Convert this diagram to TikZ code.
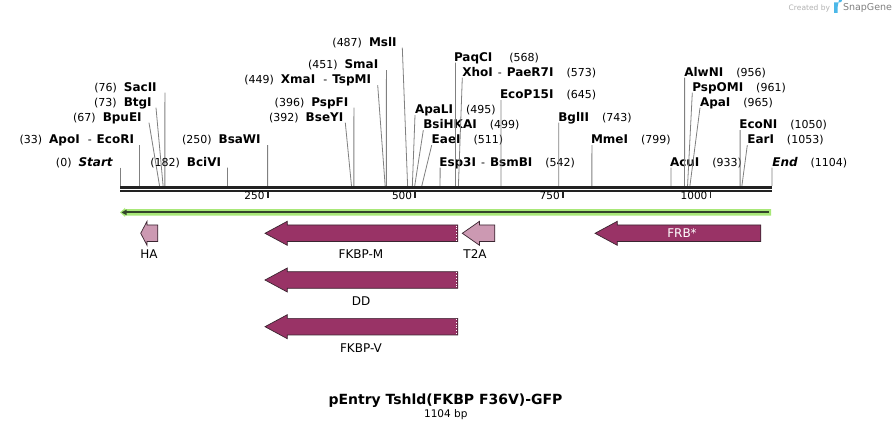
\documentclass[tikz,border=0pt]{standalone}
\usepackage{fontspec}
\setmainfont{DejaVu Sans}
\definecolor{maroonf}{HTML}{993366}
\definecolor{pinkf}{HTML}{CC99B2}
\definecolor{edgef}{HTML}{3A2530}
\definecolor{lgreen}{HTML}{A8E878}
\definecolor{dgreen}{HTML}{33452A}
\definecolor{cutgray}{HTML}{808080}
\definecolor{bbone}{HTML}{222222}
\definecolor{sglogo}{HTML}{4CB8E8}
\newcommand\NB[1]{{\fontsize{11}{13}\selectfont #1}}
\newcommand\NM[1]{{\fontsize{12}{14}\selectfont\bfseries #1}}
\newcommand\NI[1]{{\fontsize{12}{14}\selectfont\bfseries\itshape #1}}
\newcommand\enzL[6]{%
  \node[lbl,anchor=base east] (#1) at (#2,#3) {#6};
  \coordinate (#1t) at (#4,#3+1.5);
  \coordinate (#1s) at ({120+#5*0.59058},186);
  \draw[cutline] (#1t) -- (#1s);}
\newcommand\enzR[6]{%
  \node[lbl,anchor=base west] (#1) at (#2,#3) {#6};
  \coordinate (#1t) at (#4,#3+1.5);
  \coordinate (#1s) at ({120+#5*0.59058},186);
  \draw[cutline] (#1t) -- (#1s);}
\newcommand\feat[5]{%
  \draw[featedge, fill=#5] (#1,#4) -- (#2,#4-12) -- (#2,#4-8.3) -- (#3,#4-8.3)
    -- (#3,#4+8.3) -- (#2,#4+8.3) -- (#2,#4+12) -- cycle;}
\begin{document}
\begin{tikzpicture}[x=1pt,y=-1pt,
  lbl/.style={inner sep=0pt,outer sep=0pt},
  cutline/.style={draw=cutgray,line width=0.8pt},
  featedge/.style={draw=edgef,line width=0.7pt,line join=miter},
  flabel/.style={inner sep=0pt,font=\fontsize{12}{14}\selectfont},
  ticklab/.style={inner sep=0pt,anchor=base east,font=\fontsize{10.5}{12}\selectfont}]
\useasboundingbox[fill=white] (0,0) rectangle (892,430);

% SnapGene credit
\node[lbl,anchor=base east,text=black!30,font=\fontsize{7.5}{9}\selectfont] (cred) at (830,10.5) {Created by};
\fill[sglogo] (834,2.5) rectangle (837.5,13) (837.5,2.5) -- (839.5,2.5) arc (90:-90:2.6) -- (837.5,7.7) -- cycle;
\node[lbl,anchor=base west,text=black!50,font=\fontsize{9.5}{11}\selectfont] (sg) at (843,11) {SnapGene};

% enzyme sites, labels left of the line
\enzL{start}{112.7}{166.2}{120}{0}{\NB{(0)}\hspace{7pt}\NI{Start}}
\enzL{apoi}{134}{143.7}{139.5}{33}{\NB{(33)}\hspace{7pt}\NM{ApoI}\hspace{8pt}\NB{-}\hspace{5pt}\NM{EcoRI}}
\enzL{bpuei}{141.7}{121.2}{149}{67}{\NB{(67)}\hspace{7pt}\NM{BpuEI}}
\enzL{btgi}{151.7}{106.2}{156}{73}{\NB{(73)}\hspace{7pt}\NM{BtgI}}
\enzL{sacii}{156.7}{91.2}{164.9}{76}{\NB{(76)}\hspace{7pt}\NM{SacII}}
\enzL{bcivi}{221}{166.2}{227.5}{182}{\NB{(182)}\hspace{7pt}\NM{BciVI}}
\enzL{bsawi}{260.7}{143.7}{267.6}{250}{\NB{(250)}\hspace{7pt}\NM{BsaWI}}
\enzL{msli}{396.7}{46.2}{402.3}{487}{\NB{(487)}\hspace{7pt}\NM{MslI}}
\enzL{smai}{378.3}{68.7}{386.4}{451}{\NB{(451)}\hspace{7pt}\NM{SmaI}}
\enzL{xmai}{371}{83.7}{377.7}{449}{\NB{(449)}\hspace{7pt}\NM{XmaI}\hspace{8pt}\NB{-}\hspace{5pt}\NM{TspMI}}
\enzL{pspfi}{348.3}{106.2}{353.9}{396}{\NB{(396)}\hspace{7pt}\NM{PspFI}}
\enzL{bseyi}{343.3}{121.2}{345.3}{392}{\NB{(392)}\hspace{7pt}\NM{BseYI}}

% enzyme sites, labels right of the line
\enzR{apali}{415}{113.7}{415}{495}{\NM{ApaLI}\hspace{13pt}\NB{(495)}}
\enzR{bsihkai}{423.3}{128.7}{423.3}{499}{\NM{BsiHKAI}\hspace{13pt}\NB{(499)}}
\enzR{eaei}{431.7}{143.7}{431.7}{511}{\NM{EaeI}\hspace{13pt}\NB{(511)}}
\enzR{esp}{439.3}{166.2}{440.1}{542}{\NM{Esp3I}\hspace{5pt}\NB{-}\hspace{5pt}\NM{BsmBI}\hspace{13pt}\NB{(542)}}
\enzR{paqci}{454}{61.2}{455.5}{568}{\NM{PaqCI}\hspace{17pt}\NB{(568)}}
\enzR{xhoi}{462.3}{76.2}{462.3}{573}{\NM{XhoI}\hspace{5pt}\NB{-}\hspace{5pt}\NM{PaeR7I}\hspace{13pt}\NB{(573)}}
\enzR{ecop}{500}{98.7}{500.9}{645}{\NM{EcoP15I}\hspace{13pt}\NB{(645)}}
\enzR{bglii}{558.3}{121.2}{558.8}{743}{\NM{BglII}\hspace{13pt}\NB{(743)}}
\enzR{mmei}{591}{143.7}{591.9}{799}{\NM{MmeI}\hspace{13pt}\NB{(799)}}
\enzR{acui}{670}{166.2}{671}{933}{\NM{AcuI}\hspace{13pt}\NB{(933)}}
\enzR{alwni}{684.3}{76.2}{684.6}{956}{\NM{AlwNI}\hspace{13pt}\NB{(956)}}
\enzR{pspomi}{692.3}{91.2}{692.3}{961}{\NM{PspOMI}\hspace{13pt}\NB{(961)}}
\enzR{apai}{700}{106.2}{700}{965}{\NM{ApaI}\hspace{13pt}\NB{(965)}}
\enzR{econi}{739.3}{128.7}{740.1}{1050}{\NM{EcoNI}\hspace{13pt}\NB{(1050)}}
\enzR{eari}{747.3}{143.7}{747.3}{1053}{\NM{EarI}\hspace{13pt}\NB{(1053)}}
\enzR{endl}{772.3}{166.2}{772}{1104}{\NI{End}\hspace{13pt}\NB{(1104)}}

% backbone
\coordinate (b0) at (120,0);
\coordinate (b1) at (772,0);
\draw[bbone,line width=3pt] (b0 |- 0,187.4) -- (b1 |- 0,187.4);
\draw[bbone,line width=2.3pt] (b0 |- 0,191.2) -- (b1 |- 0,191.2);

% ticks
\foreach \p in {250,500,750,1000}{
  \coordinate (tk\p) at ({120+\p*0.59058},192.3);
  \draw[bbone,line width=1.8pt] (tk\p) -- ++(0,6);
  \node[ticklab] (tl\p) at ([xshift=-3pt,yshift=-7pt]tk\p) {\p};
}

% green ORF arrow
\coordinate (g0) at (120,212.4);
\coordinate (g1) at (771,212.4);
\fill[lgreen] (g0) -- ++(5,-4.4) -- ++(0,1.2) -- (g1 |- 0,209.2) -- (g1 |- 0,215.6) -- (125,215.6) -- ++(0,1.2) -- cycle;
\draw[dgreen,line width=1.8pt] (126,212.4) -- (768.5,212.4);
\fill[dgreen] (121.5,212.4) -- (126.5,209.6) -- (126.5,215.2) -- cycle;

% features
\feat{140.7}{147}{157.8}{233.3}{pinkf}
\feat{265}{287.3}{457.8}{233.3}{maroonf}
\feat{462.3}{479.5}{494.8}{233.3}{pinkf}
\feat{595}{617.3}{760.8}{233.3}{maroonf}
\feat{265}{287.3}{457.8}{280}{maroonf}
\feat{265}{287.3}{457.8}{326.7}{maroonf}
\foreach \yy in {233.3,280,326.7}
  \draw[white,dotted,line width=0.8pt] (456.2,\yy-7.6) -- (456.2,\yy+7.6);

% feature labels
\node[flabel] (ha) at (149,254.5) {HA};
\node[flabel] (fkbpm) at (361,254.5) {FKBP-M};
\node[flabel] (t2a) at (475,254.5) {T2A};
\node[flabel,text=white] (frb) at (682,233.3) {FRB*};
\node[flabel] (dd) at (361,301) {DD};
\node[flabel] (fkbpv) at (361,347.7) {FKBP-V};

% title
\node[lbl,anchor=base,font=\fontsize{14}{16}\selectfont\bfseries] (title) at (445.5,404.5) {pEntry Tshld(FKBP F36V)-GFP};
\node[lbl,anchor=base,font=\fontsize{10.5}{12}\selectfont] (bp) at (445.8,417.8) {1104 bp};
\end{tikzpicture}
\end{document}
